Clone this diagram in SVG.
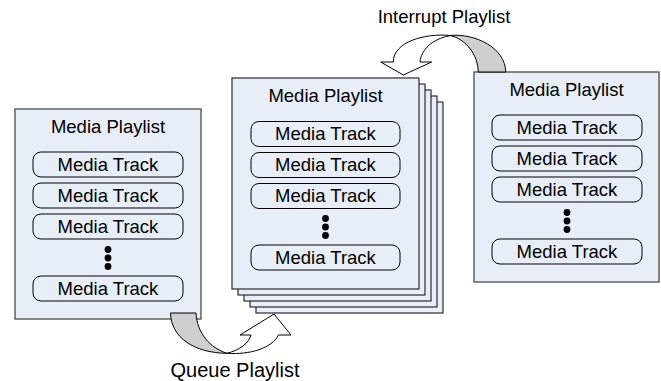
<svg xmlns="http://www.w3.org/2000/svg" width="661" height="381" viewBox="0 0 661 381">
<style>
.box{fill:#e8eef8;stroke:#4a4a4a;stroke-width:1.3}
.page{fill:#e8eef8;stroke:#1a1a1a;stroke-width:1.1}
.trk{fill:#e8eef8;stroke:#000;stroke-width:1}
.t{font-family:"Liberation Sans",Arial,sans-serif;font-size:18.5px;fill:#000;text-anchor:middle}
.dot{fill:#000}
.arw{stroke:#000;stroke-width:1;stroke-linejoin:miter}
.back{fill:#cfcfcf}
.front{fill:#fff}
</style>
<defs>
<g id="dots"><circle cx="0" cy="-8.5" r="3.4" class="dot"/><circle cx="0" cy="0" r="3.4" class="dot"/><circle cx="0" cy="8.5" r="3.4" class="dot"/></g>
</defs>

<g id="playlist-left">
<rect class="box" x="15" y="109" width="186" height="210"/>
<text class="t" x="108" y="132.5">Media Playlist</text>
<rect class="trk" x="33" y="152" width="150" height="25" rx="8"/>
<text class="t" x="108" y="170.5">Media Track</text>
<rect class="trk" x="33" y="183" width="150" height="25" rx="8"/>
<text class="t" x="108" y="201.5">Media Track</text>
<rect class="trk" x="33" y="214" width="150" height="25" rx="8"/>
<text class="t" x="108" y="232.5">Media Track</text>
<use href="#dots" x="108" y="258"/>
<rect class="trk" x="33" y="276" width="150" height="25" rx="8"/>
<text class="t" x="108" y="294.5">Media Track</text>
</g>

<g id="playlist-middle">
<rect class="page" x="256" y="102" width="187" height="211"/>
<rect class="page" x="250" y="96" width="187" height="211"/>
<rect class="page" x="244" y="90" width="187" height="211"/>
<rect class="page" x="238" y="84" width="187" height="211"/>
<rect class="page" x="232" y="78" width="187" height="211"/>
<text class="t" x="325.5" y="101.5">Media Playlist</text>
<rect class="trk" x="251" y="121.5" width="149" height="25" rx="8"/>
<text class="t" x="325.5" y="140">Media Track</text>
<rect class="trk" x="251" y="152.5" width="149" height="25" rx="8"/>
<text class="t" x="325.5" y="171">Media Track</text>
<rect class="trk" x="251" y="183.5" width="149" height="25" rx="8"/>
<text class="t" x="325.5" y="202">Media Track</text>
<use href="#dots" x="325.5" y="227"/>
<rect class="trk" x="251" y="245" width="149" height="25" rx="8"/>
<text class="t" x="325.5" y="263.5">Media Track</text>
</g>

<g id="playlist-right">
<rect class="box" x="474" y="72" width="185" height="210"/>
<text class="t" x="566.5" y="95.5">Media Playlist</text>
<rect class="trk" x="492" y="115" width="150" height="25" rx="8"/>
<text class="t" x="567" y="133.5">Media Track</text>
<rect class="trk" x="492" y="146" width="150" height="25" rx="8"/>
<text class="t" x="567" y="164.5">Media Track</text>
<rect class="trk" x="492" y="177" width="150" height="25" rx="8"/>
<text class="t" x="567" y="195.5">Media Track</text>
<use href="#dots" x="567" y="221"/>
<rect class="trk" x="492" y="239" width="150" height="25" rx="8"/>
<text class="t" x="567" y="257.5">Media Track</text>
</g>

<g id="connectors">
<g id="queue-arrow">
<path class="arw back" d="M170.5,313 L196,313 C197,333 210,348 227,353.3 C195,353 171,338 170.5,313 Z"/>
<path class="arw front" d="M227,353.3 C240,350 249,343 251,335 L240,335 L274,314 L291,335 L278.5,335 C272,348 250,355 227,353.3 Z"/>
</g>
<g id="interrupt-arrow">
<path class="arw back" d="M478.3,72 C478,55 466,39 450,35.5 C475,33 505.7,48 505.7,72 Z"/>
<path class="arw front" d="M450,35.5 C425,33 393,42 393.3,62 L380.7,62 L403.3,75 L431.7,62 L420,62 C421,50 432,39 450,35.7 Z"/>
</g>
<text class="t" x="444" y="23">Interrupt Playlist</text>
<text class="t" x="235" y="377" style="font-size:20px">Queue Playlist</text>
</g>
</svg>
